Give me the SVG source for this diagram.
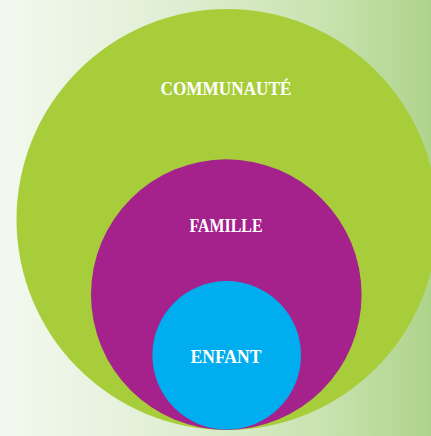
<svg xmlns="http://www.w3.org/2000/svg" width="431" height="436" viewBox="0 0 431 436">
<defs>
<linearGradient id="bg" x1="0" y1="0" x2="1" y2="0">
<stop offset="0" stop-color="#f3f9ef"/>
<stop offset="0.3" stop-color="#e6f1dc"/>
<stop offset="0.75" stop-color="#c9e3b0"/>
<stop offset="1" stop-color="#aed48c"/>
</linearGradient>
</defs>
<style>
.lbl{font-family:"Liberation Serif","DejaVu Serif",serif;font-weight:bold;font-size:19px;fill:#ffffff;text-anchor:middle;}
</style>
<rect x="0" y="0" width="431" height="436" fill="url(#bg)"/>
<g id="communaute">
<circle cx="227" cy="219.5" r="210.5" fill="#a8cd3a"/>
<text class="lbl" x="226" y="95" textLength="131" lengthAdjust="spacingAndGlyphs">COMMUNAUTÉ</text>
</g>
<g id="famille">
<circle cx="226.3" cy="294.6" r="135.3" fill="#a5228d"/>
<text class="lbl" x="226" y="231.5" textLength="73" lengthAdjust="spacingAndGlyphs">FAMILLE</text>
</g>
<g id="enfant">
<circle cx="226.7" cy="355.3" r="74.3" fill="#00adee"/>
<text class="lbl" x="226" y="363" textLength="71" lengthAdjust="spacingAndGlyphs">ENFANT</text>
</g>
<g id="connectors"/>
</svg>
